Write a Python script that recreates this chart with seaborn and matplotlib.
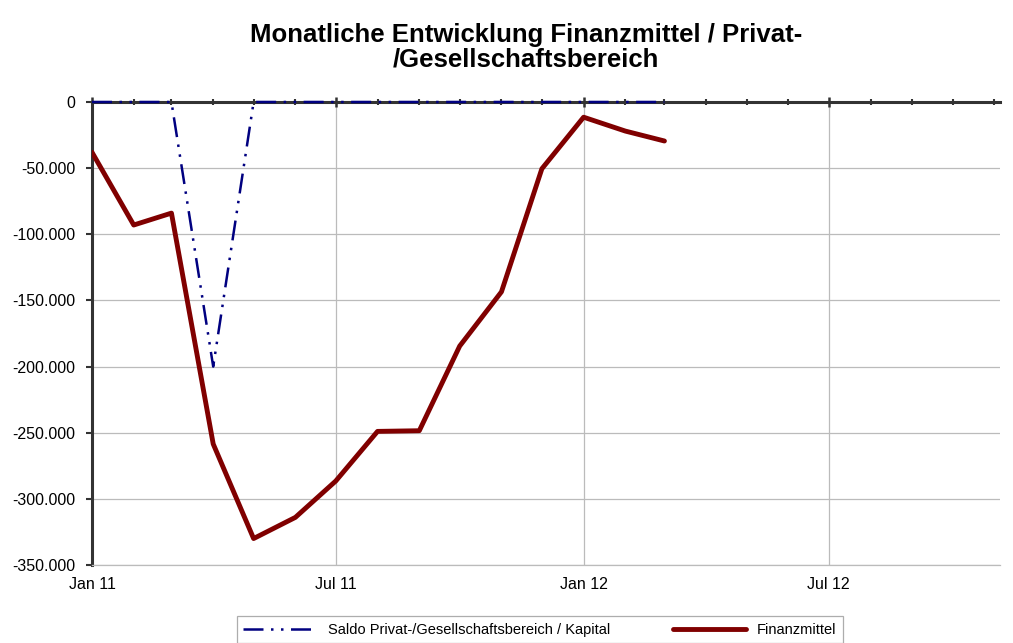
import pandas as pd
import seaborn as sns
import matplotlib.pyplot as plt
import matplotlib.dates as mdates

# monthly values Jan 11 .. Mar 12
months = ["2011-01", "2011-02", "2011-03", "2011-04", "2011-05", "2011-06", "2011-07",
          "2011-08", "2011-09", "2011-10", "2011-11", "2011-12", "2012-01", "2012-02", "2012-03"]
saldo = [0, 0, 0, -200000, 0, 0, 0, 0, 0, 0, 0, 0, 0, 0, 0]
finanzmittel = [-38000, -93000, -84000, -258500, -330000, -314000, -286500,
                -249000, -248500, -184500, -143500, -50500, -11500, -22000, -29500]

saldoLabel = "Saldo Privat-/Gesellschaftsbereich / Kapital"
finanzLabel = "Finanzmittel"

sns.set_theme(style="white")
plt.rcParams['font.family'] = ['Liberation Sans', 'DejaVu Sans']
plt.rcParams['text.color'] = 'black'
plt.rcParams['xtick.labelcolor'] = 'black'
plt.rcParams['ytick.labelcolor'] = 'black'

df = pd.DataFrame({"month": pd.to_datetime(months), "saldo": saldo, "finanz": finanzmittel})

fig = plt.figure(figsize=(10.13, 6.43), dpi=100)
fig.set_facecolor('white')
ax = fig.add_axes([0.0908, 0.1213, 0.8962, 0.7201])

sns.lineplot(data=df, x="month", y="saldo", ax=ax, color="#000080", linewidth=1.8,
             label=saldoLabel, zorder=3, clip_on=False)
ax.lines[-1].set_dashes([8, 3, 1, 3, 1, 3])
sns.lineplot(data=df, x="month", y="finanz", ax=ax, color="#800000", linewidth=3.5,
             label=finanzLabel, solid_capstyle="round", zorder=3)

ax.set_ylim(-350000, 0)
ax.set_yticks(range(-350000, 1, 50000))
ax.set_yticklabels([f"{v:,}".replace(",", ".") for v in range(-350000, 1, 50000)])
ax.set_xlim(pd.Timestamp("2011-01-01"), pd.Timestamp("2012-11-05"))

ax.xaxis.set_major_locator(mdates.MonthLocator(bymonth=[1, 7]))
ax.xaxis.set_major_formatter(mdates.DateFormatter("%b %y"))
ax.xaxis.set_minor_locator(mdates.MonthLocator())
ax.tick_params(axis='x', which='both', top=True, bottom=False, labelbottom=True,
               direction='inout', color='#333333', labelsize=11.5, pad=5)
ax.tick_params(axis='x', which='major', length=7, width=1.8)
ax.tick_params(axis='x', which='minor', length=5, width=1.5)
ax.tick_params(axis='y', left=True, direction='out', length=4, width=1.5,
               color='#333333', labelsize=11.5, pad=8)

ax.grid(True, axis='both', which='major', color='#bbbbbb', linewidth=0.9)
ax.set_axisbelow(True)
for side in ['top', 'left']:
    ax.spines[side].set_color('#333333')
    ax.spines[side].set_linewidth(2.2)
ax.spines['right'].set_visible(False)
ax.spines['bottom'].set_color('#bbbbbb')
ax.spines['bottom'].set_linewidth(0.9)
ax.set_xlabel("")
ax.set_ylabel("")

ax.legend_.remove()
handles, labels = ax.get_legend_handles_labels()
leg = fig.legend(handles, labels, loc='lower center', bbox_to_anchor=(0.533, -0.012),
                 ncol=2, fontsize=10.5, frameon=True, fancybox=False, handlelength=5.0,
                 columnspacing=4.3, borderpad=0.45, borderaxespad=0.5, edgecolor='#999999')
leg.get_frame().set_linewidth(0.9)

fig.suptitle("Monatliche Entwicklung Finanzmittel / Privat-\n/Gesellschaftsbereich",
             x=0.519, y=0.965, fontsize=18.5, fontweight='bold', linespacing=1.05)

plt.savefig("out.png", dpi=100)
